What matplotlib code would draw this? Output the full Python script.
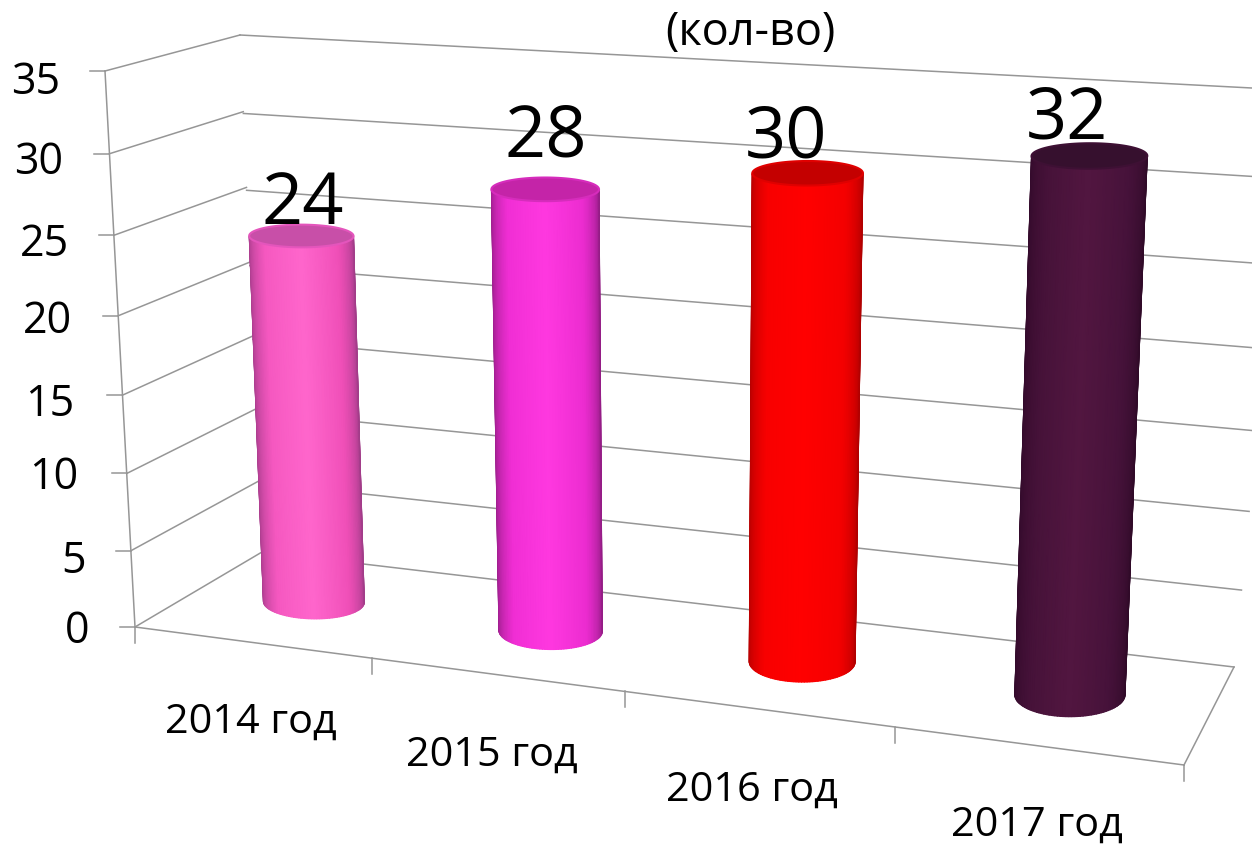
import numpy as np
import matplotlib
matplotlib.use('Agg')
import matplotlib.pyplot as plt
from matplotlib.colors import LinearSegmentedColormap
from matplotlib.transforms import Transform

# Donnees
categories = ['2014 год', '2015 год', '2016 год', '2017 год']
values = [24, 28, 30, 32]
y_ticks = [0, 5, 10, 15, 20, 25, 30, 35]

# Couleurs des cylindres : bord gauche -> bord droit
body_colors = [
    ['#a83c8c', '#f558c0', '#ff66cc', '#f04fb8', '#a03c88'],
    ['#9a1e8a', '#f02ed4', '#ff38e0', '#ec2cd0', '#921c84'],
    ['#b40000', '#f80000', '#ff0000', '#f40000', '#b00000'],
    ['#330a2b', '#461239', '#521640', '#46123a', '#300a28'],
]
cap_colors = ['#c84fa8', '#c424a8', '#c40000', '#36102e']
rim_colors = ['#e455bc', '#d62cbc', '#e00000', '#3e1034']


class Homography(Transform):
    input_dims = 2
    output_dims = 2

    def __init__(self, src, dst):
        super().__init__()
        rows, rhs = [], []
        for (a, b), (x, y) in zip(src, dst):
            rows.append([a, b, 1, 0, 0, 0, -a * x, -b * x])
            rows.append([0, 0, 0, a, b, 1, -a * y, -b * y])
            rhs += [x, y]
        h = np.linalg.solve(np.array(rows, float), np.array(rhs, float))
        self.m = np.append(h, 1).reshape(3, 3)

    def transform_non_affine(self, values):
        vals = np.asarray(values, float)
        pts = np.column_stack([vals, np.ones(len(vals))]) @ self.m.T
        return pts[:, :2] / pts[:, 2:]


# Perspective : coins en pixels de chaque plan
back_wall = Homography([(0, 0), (4, 0), (0, 35), (4, 35)],
                       [(262, 553), (1234, 668), (240, 36), (1290, 91)])
left_wall = Homography([(0, 0), (1, 0), (0, 35), (1, 35)],
                       [(135, 628), (262, 553), (105, 72), (240, 36)])
floor = Homography([(0, 0), (4, 0), (0, 1), (4, 1)],
                   [(135, 628), (1184, 766), (262, 553), (1234, 668)])
# bord avant du sol, pour l'espacement des graduations
front_edge = Homography([(0, 0), (4, 0), (0, 1), (4, 1)],
                        [(135, 628), (1184, 766), (135, 528), (1184, 652)])
# plan qui passe par l'axe des cylindres
bar_plane = Homography([(0.5, 0), (3.5, 0), (0.5, 24), (3.5, 32)],
                       [(313.5, 603), (1069.5, 696), (301, 237), (1089, 157)])

fig = plt.figure(figsize=(12.52, 8.45), dpi=100)
ax = fig.add_axes([0, 0, 1, 1])
plt.rcParams['font.family'] = ['Open Sans', 'DejaVu Sans']

grid = '#969696'
for v in y_ticks:
    ax.plot([0, 1], [v, v], color=grid, lw=1.1, transform=left_wall + ax.transData)
    ax.plot([0, 4], [v, v], color=grid, lw=1.1, transform=back_wall + ax.transData)
ax.plot([0, 0], [0, 35], color=grid, lw=1.1, transform=left_wall + ax.transData)
ax.plot([0, 4], [0, 0], color=grid, lw=1.1, transform=floor + ax.transData)
ax.plot([4, 4], [0, 1], color=grid, lw=1.1, transform=floor + ax.transData)

# Graduations
for v in y_ticks:
    x, y = left_wall.transform(np.array([[0, v]], float))[0]
    ax.plot([x - 15, x], [y, y], color=grid, lw=1.1)
for u in range(5):
    x, y = front_edge.transform(np.array([[u, 0]], float))[0]
    ax.plot([x, x], [y, y + 16], color=grid, lw=1.1)

# Cylindres
radii = [0.2205, 0.2122, 0.2038, 0.1986]
theta = np.linspace(0, np.pi, 61)
full = np.linspace(0, 2 * np.pi, 121)
for i, val in enumerate(values):
    uc = i + 0.5
    radius = radii[i]
    k0 = 1.15 + 0.07 * i
    k1 = 0.72
    tilt0 = 0.4
    tilt1 = 0.4 - 0.2 * val / 32
    uu = uc - radius * np.cos(theta)
    low = -k0 * np.sin(theta) - tilt0 * np.cos(theta)
    high = val - k1 * np.sin(theta) - tilt1 * np.cos(theta)
    X = np.vstack([uu, uu])
    Y = np.vstack([low, high])
    C = np.vstack([theta, theta]) / np.pi
    cmap = LinearSegmentedColormap.from_list('c%d' % i, body_colors[i])
    ax.pcolormesh(X, Y, C, cmap=cmap, shading='gouraud', vmin=0, vmax=1,
                  transform=bar_plane + ax.transData, zorder=3)
    ax.fill(uc + radius * np.cos(full),
            val + k1 * np.sin(full) + tilt1 * np.cos(full),
            facecolor=cap_colors[i], edgecolor=rim_colors[i], lw=1.5,
            transform=bar_plane + ax.transData, zorder=4)

# Textes
y_label_pos = [(77, 632), (74, 562), (54, 478), (50, 405), (47, 322), (45, 245), (39, 163), (36, 83)]
for v, (x, y) in zip(y_ticks, y_label_pos):
    ax.text(x, y, str(v), fontsize=31, ha='center', va='center', color='black', zorder=6)

x_label_pos = [(251, 722), (492, 755), (752, 790), (1037, 825)]
for lab, (x, y) in zip(categories, x_label_pos):
    ax.text(x, y, lab, fontsize=29.8, ha='center', va='center', color='black', zorder=6)

value_offset = [(2, -32), (1, -53), (-21, -36), (-22, -37)]
for i, val in enumerate(values):
    x, y = bar_plane.transform(np.array([[i + 0.5, val]], float))[0]
    ax.text(x + value_offset[i][0], y + value_offset[i][1], str(val), fontsize=52,
            ha='center', va='center', color='black', zorder=6)

ax.text(750, 33, '(кол-во)', fontsize=32.5, ha='center', va='center', color='black', zorder=6)

ax.set_xlim(0, 1252)
ax.set_ylim(845, 0)
ax.axis('off')
fig.savefig('out.png', dpi=100, facecolor='white')
